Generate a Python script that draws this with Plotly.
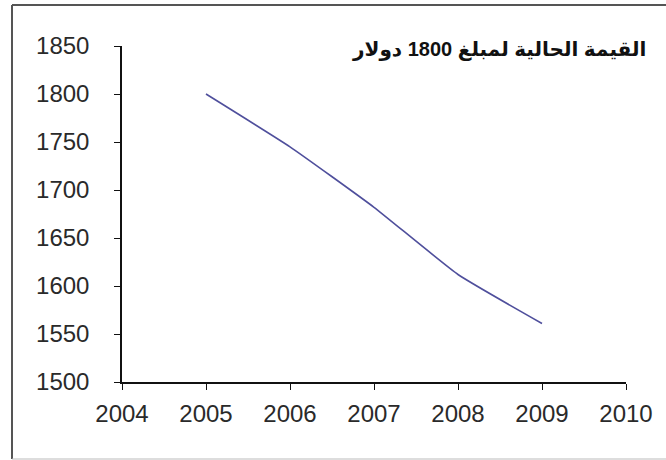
import plotly.graph_objects as go

years = [2005, 2006, 2007, 2008, 2009]
values = [1800, 1745, 1682, 1612, 1561]
x_ticks = [2004, 2005, 2006, 2007, 2008, 2009, 2010]
y_ticks = [1500, 1550, 1600, 1650, 1700, 1750, 1800, 1850]
title_text = "القيمة الحالية لمبلغ 1800 دولار"

fig = go.Figure()
fig.add_trace(go.Scatter(
    x=years, y=values, mode="lines",
    line=dict(color="#4f4f9c", width=1.6, shape="spline", smoothing=0.4),
    showlegend=False, hoverinfo="skip",
))

W, H = 666, 460
L, R, T, B = 122, 40, 46, 78
pw, ph = W - L - R, H - T - B

def px(xp):
    return (xp - L) / pw

def py(yp):
    return (H - B - yp) / ph

fig.update_layout(
    width=W, height=H,
    margin=dict(l=L, r=R, t=T, b=B, pad=0),
    paper_bgcolor="white", plot_bgcolor="white",
    font=dict(family="Liberation Sans, Arial, DejaVu Sans", color="#2a2a2a", size=24),
    xaxis=dict(range=[2004, 2010], tickmode="array", tickvals=x_ticks,
               ticktext=[str(v) for v in x_ticks],
               showgrid=False, zeroline=False, showline=True, linecolor="#111111",
               linewidth=1.5, ticks="outside", ticklen=6, tickcolor="#111111",
               tickwidth=1.3, tickfont=dict(size=24), ticklabelstandoff=3),
    yaxis=dict(range=[1500, 1850], tickmode="array", tickvals=y_ticks,
               ticktext=[str(v) for v in y_ticks],
               showgrid=False, zeroline=False, showline=True, linecolor="#111111",
               linewidth=1.5, ticks="outside", ticklen=6, tickcolor="#111111",
               tickwidth=1.3, tickfont=dict(size=24), ticklabelstandoff=20),
    shapes=[
        dict(type="line", xref="paper", yref="paper", x0=px(12), x1=px(12),
             y0=py(5), y1=py(459), line=dict(color="#555555", width=2)),
        dict(type="line", xref="paper", yref="paper", x0=px(12), x1=px(670),
             y0=py(5), y1=py(5), line=dict(color="#555555", width=2)),
        dict(type="line", xref="paper", yref="paper", x0=px(12), x1=px(670),
             y0=py(459), y1=py(459), line=dict(color="#bbbbbb", width=1)),
    ],
    annotations=[
        dict(text="<b>" + title_text + "</b>", xref="paper", yref="paper",
             x=px(648), y=py(50), xanchor="right", yanchor="middle",
             showarrow=False, font=dict(size=20, color="#111111",
                                         family="Liberation Sans, Arial, DejaVu Sans")),
    ],
)

fig.write_html("out.html", config={"displayModeBar": False},
               post_script="document.body.style.margin='0px';document.body.style.overflow='hidden';")
